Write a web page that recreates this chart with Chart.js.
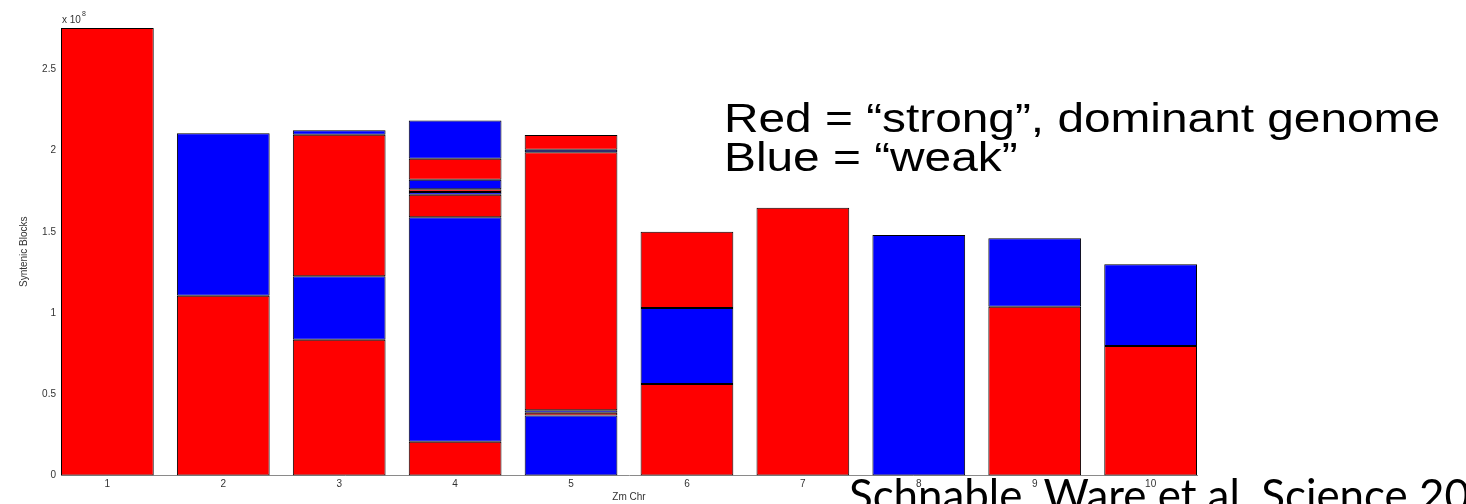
<!DOCTYPE html>
<html>
<head>
<meta charset="utf-8">
<script src="https://cdn.jsdelivr.net/npm/chart.js@4.4.1/dist/chart.umd.min.js"></script>
<style>
  html, body { margin: 0; padding: 0; background: #fff; overflow: hidden; }
  #wrap { width: 1466px; height: 504px; position: relative; }
</style>
</head>
<body>
<div id="wrap"><canvas id="c" width="1466" height="504"></canvas></div>
<script>
// Syntenic blocks along each maize chromosome (Zm Chr), lengths in units of 10^8.
// Blocks are listed bottom to top; each entry is the cumulative top of a block.
const chromosomes = ['1', '2', '3', '4', '5', '6', '7', '8', '9', '10'];
const blockTops = [
  [2.754],
  [1.106, 2.106],
  [0.836, 1.226, 2.097, 2.124],
  [0.208, 1.589, 1.728, 1.745, 1.761, 1.820, 1.950, 2.185],
  [0.370, 0.386, 0.401, 1.989, 2.005, 2.095],
  [0.563, 1.031, 1.500],
  [1.648],
  [1.480],
  [1.039, 1.460],
  [0.797, 1.300]
];
// R = "strong" (dominant) subgenome, B = "weak" subgenome
const blockGenome = [
  ['R'],
  ['R', 'B'],
  ['R', 'B', 'R', 'B'],
  ['R', 'B', 'R', 'B', 'R', 'B', 'R', 'B'],
  ['B', 'R', 'B', 'R', 'B', 'R'],
  ['R', 'B', 'R'],
  ['R'],
  ['B'],
  ['R', 'B'],
  ['R', 'B']
];
const yTicks = [0, 0.5, 1, 1.5, 2, 2.5];
const yTickLabels = ['0', '0.5', '1', '1.5', '2', '2.5'];

const genomeColor = { R: '#ff0000', B: '#0000ff' };
const tickFont = { family: "'Liberation Sans', Arial, sans-serif", size: 10 };
const tickColor = '#333';

// One dataset per stacking layer; each bar segment is a floating [bottom, top] bar.
const layerCount = Math.max(...blockTops.map(t => t.length));
const datasets = [];
for (let k = 0; k < layerCount; k++) {
  const pts = [], cols = [];
  blockTops.forEach((tops, i) => {
    if (k < tops.length) {
      pts.push({ x: i + 1, y: [k ? tops[k - 1] : 0, tops[k]] });
      cols.push(genomeColor[blockGenome[i][k]]);
    }
  });
  datasets.push({
    data: pts,
    backgroundColor: cols,
    borderColor: '#000',
    borderWidth: 1,
    borderSkipped: false,
    grouped: false,
    barPercentage: 0.8,
    categoryPercentage: 1
  });
}

// Draws a line of text scaled horizontally by sx.
function wideText(ctx, text, x, y, sx) {
  ctx.save();
  ctx.translate(x, y);
  ctx.scale(sx, 1);
  ctx.fillText(text, 0, 0);
  ctx.restore();
}

// Labels, exponent, notes and citation drawn straight onto the canvas.
const textPlugin = {
  id: 'slideText',
  beforeDraw(chart) {
    const ctx = chart.ctx;
    ctx.save();
    ctx.fillStyle = '#000';
    ctx.textBaseline = 'alphabetic';
    ctx.textAlign = 'left';
    const family = "Lato, 'Open Sans', sans-serif";
    let size = 40;
    ctx.font = size + 'px ' + family;
    size = size * 570 / ctx.measureText('Schnable, Ware et al. Science ').width;
    ctx.font = size.toFixed(2) + 'px ' + family;
    ctx.fillText('Schnable, Ware et al. Science 2009', 849, 511);
    ctx.restore();
  },
  afterDraw(chart) {
    const ctx = chart.ctx;
    const area = chart.chartArea;
    ctx.save();
    ctx.fillStyle = tickColor;
    ctx.textBaseline = 'middle';

    // exponent of the value axis
    ctx.textAlign = 'left';
    ctx.font = "10px 'Liberation Sans', Arial, sans-serif";
    ctx.fillText('x 10', area.left + 1, 20);
    const w = ctx.measureText('x 10').width;
    ctx.font = "7px 'Liberation Sans', Arial, sans-serif";
    ctx.fillText('8', area.left + 2 + w, 14);

    // axis titles
    ctx.font = "10px 'Liberation Sans', Arial, sans-serif";
    ctx.textAlign = 'center';
    ctx.fillText('Zm Chr', (area.left + area.right) / 2, 497);
    ctx.save();
    ctx.translate(24, (area.top + area.bottom) / 2);
    ctx.rotate(-Math.PI / 2);
    ctx.fillText('Syntenic Blocks', 0, 0);
    ctx.restore();

    // colour key notes
    ctx.fillStyle = '#000';
    ctx.textAlign = 'left';
    ctx.textBaseline = 'alphabetic';
    const fam = "'Liberation Sans', Arial, sans-serif";
    const line1 = 'Red = \u201cstrong\u201d, dominant genome';
    const line2 = 'Blue = \u201cweak\u201d';
    ctx.font = '40px ' + fam;
    const stretch = 716 / ctx.measureText(line1).width;
    wideText(ctx, line1, 724, 132, stretch);
    wideText(ctx, line2, 724, 171, stretch);
    ctx.restore();
  }
};

new Chart(document.getElementById('c'), {
  type: 'bar',
  data: { datasets },
  plugins: [textPlugin],
  options: {
    responsive: false,
    animation: false,
    devicePixelRatio: 1,
    layout: { padding: { top: 28, right: 269, bottom: 0, left: 0 } },
    plugins: { legend: { display: false }, tooltip: { enabled: false } },
    scales: {
      x: {
        type: 'linear',
        offset: false,
        min: 0.6,
        max: 10.4,
        afterBuildTicks: s => { s.ticks = chromosomes.map((c, i) => ({ value: i + 1 })); },
        ticks: {
          callback: v => chromosomes[Math.round(v) - 1],
          font: tickFont, color: tickColor, padding: 3,
          autoSkip: false, maxRotation: 0
        },
        grid: { display: false, drawTicks: false, offset: false },
        border: { display: true, color: '#8a8a8a', width: 1 },
        afterFit: s => { s.height = 28.5; }
      },
      y: {
        min: 0,
        max: Math.max(...blockTops.flat()),
        afterBuildTicks: s => { s.ticks = yTicks.map(v => ({ value: v })); },
        ticks: {
          callback: v => yTickLabels[yTicks.indexOf(v)],
          font: tickFont, color: tickColor, padding: 5
        },
        grid: { display: false, drawTicks: false },
        border: { display: true, color: '#8a8a8a', width: 1 },
        afterFit: s => { s.width = 61; }
      }
    }
  }
});
</script>
</body>
</html>
